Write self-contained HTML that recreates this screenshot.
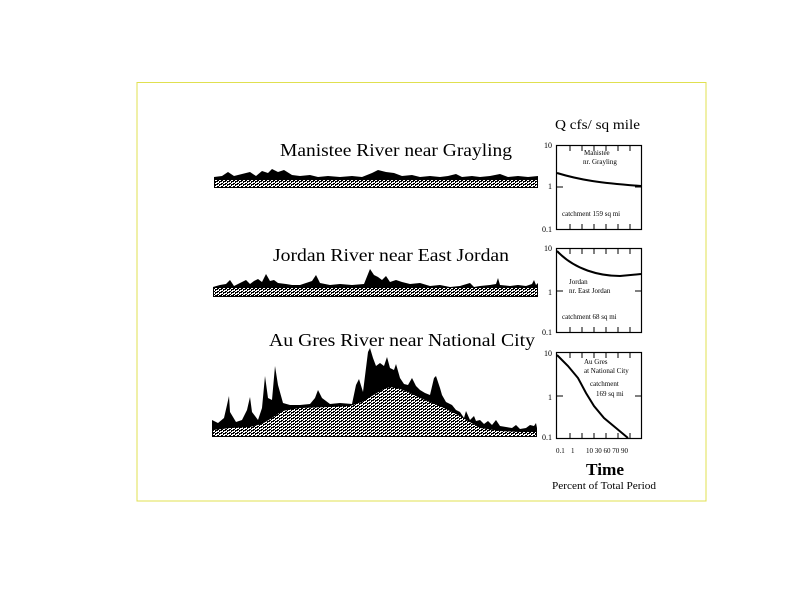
<!DOCTYPE html>
<html><head><meta charset="utf-8"><style>
html,body{margin:0;padding:0;background:#fff;}
svg{display:block;}
text{font-family:"Liberation Serif",serif;fill:#000;}
</style></head><body>
<svg width="800" height="600" viewBox="0 0 800 600" xmlns="http://www.w3.org/2000/svg">
<defs>
<pattern id="st" width="4" height="3" patternUnits="userSpaceOnUse">
<rect width="4" height="3" fill="#000"/>
<rect x="0" y="0" width="1" height="1" fill="#fff"/>
<rect x="2" y="1" width="1" height="1" fill="#fff"/>
<rect x="1" y="2" width="2" height="1" fill="#fff"/>
<rect x="3" y="0" width="1" height="1" fill="#fff"/>
<rect x="0" y="2" width="1" height="1" fill="#fff"/>
</pattern>
</defs>
<rect x="137" y="82.5" width="569" height="418.5" fill="none" stroke="#e0e050" stroke-width="1"/>

<text x="555" y="129" font-size="14" textLength="85" lengthAdjust="spacingAndGlyphs">Q cfs/ sq mile</text>
<text x="280" y="156" font-size="18" textLength="232" lengthAdjust="spacingAndGlyphs">Manistee River near Grayling</text>
<text x="273" y="261" font-size="18" textLength="236" lengthAdjust="spacingAndGlyphs">Jordan River near East Jordan</text>
<text x="269" y="346" font-size="18" textLength="266" lengthAdjust="spacingAndGlyphs">Au Gres River near National City</text>

<!-- Manistee hydrograph -->
<path d="M214 177 L222 176 L228 172 L234 176 L242 174 L250 172 L256 176 L262 171 L268 173 L272 169 L278 172 L284 170 L292 175 L300 176 L310 175 L318 177 L328 176 L340 177 L352 176 L362 177 L372 173 L378 170 L386 172 L394 173 L402 176 L412 175 L420 177 L430 176 L440 177 L448 176 L456 174 L462 177 L472 176 L480 177 L490 176 L500 174 L508 177 L518 176 L528 177 L538 176 L538 188 L214 188 Z" fill="#000"/>
<rect x="215" y="180" width="322" height="7" fill="url(#st)"/>

<!-- Jordan hydrograph -->
<path d="M213 287 L220 285 L226 284 L230 280 L234 286 L240 283 L246 280 L250 284 L254 281 L258 279 L262 282 L266 274 L270 281 L274 280 L278 283 L286 284 L292 285 L300 285 L312 281 L316 275 L320 283 L330 285 L340 284 L352 285 L364 284 L370 269 L374 275 L378 277 L382 280 L386 276 L390 282 L396 280 L402 282 L410 284 L420 283 L430 286 L440 285 L450 287 L460 286 L470 283 L474 287 L480 286 L490 285 L496 284 L498 278 L500 285 L510 286 L518 285 L526 286 L532 284 L534 280 L536 285 L538 283 L538 297 L213 297 Z" fill="#000"/>
<rect x="214" y="288" width="323" height="8" fill="url(#st)"/>

<!-- Au Gres hydrograph -->
<path d="M212 420 L218 423 L224 418 L227 405 L229 396 L230 412 L236 422 L242 420 L247 410 L250 397 L252 412 L258 420 L262 408 L265 376 L268 398 L272 400 L275 366 L278 385 L283 403 L290 405 L300 405 L310 404 L315 398 L318 390 L322 398 L330 404 L340 403 L352 404 L356 385 L359 379 L363 392 L368 352 L370 348 L373 358 L376 366 L380 363 L384 366 L387 357 L390 368 L394 370 L396 364 L400 378 L404 384 L408 385 L412 378 L416 386 L420 390 L425 393 L430 395 L434 378 L436 376 L440 388 L442 395 L446 402 L452 405 L456 410 L460 412 L464 418 L466 411 L470 420 L474 416 L476 421 L480 420 L484 424 L488 421 L492 425 L496 420 L500 426 L506 427 L512 428 L516 425 L520 429 L526 428 L530 425 L534 426 L536 423 L537 428 L537 437 L212 437 Z" fill="#000"/>
<path d="M213 430 L230 428 L250 427 L262 424 L272 418 L282 411 L300 408 L330 407 L350 406 L362 402 L372 396 L382 390 L390 387 L400 389 L410 393 L420 398 L432 403 L444 408 L456 414 L468 421 L480 428 L500 431 L520 432 L536 432 L536 436 L213 436 Z" fill="url(#st)"/>

<!-- Duration curve boxes -->
<g stroke="#000" fill="none" stroke-width="1.2">
<rect x="556.5" y="145.5" width="85" height="84"/>
<rect x="556.5" y="248.5" width="85" height="84"/>
<rect x="556.5" y="352.5" width="85" height="86"/>
</g>
<g stroke="#000" stroke-width="1">
<path d="M570 146v5M582 146v5M594 146v5M606 146v5M618 146v5M630 146v5M570 229v-5M582 229v-5M594 229v-5M606 229v-5M618 229v-5M630 229v-5M557 187h6M641 187h-6"/>
<path d="M570 249v5M582 249v5M594 249v5M606 249v5M618 249v5M630 249v5M570 332v-5M582 332v-5M594 332v-5M606 332v-5M618 332v-5M630 332v-5M557 291h6M641 291h-6"/>
<path d="M570 353v5M582 353v5M594 353v5M606 353v5M618 353v5M630 353v5M570 438v-5M582 438v-5M594 438v-5M606 438v-5M618 438v-5M630 438v-5M557 396h6M641 396h-6"/>
</g>
<g stroke="#000" fill="none" stroke-width="2">
<path d="M557 173 C580 180 600 183 641 186"/>
<path d="M557 251 C575 270 600 276 620 276 L641 274"/>
<path d="M557 355 L568 366 L578 378 L586 393 L594 406 L604 418 L616 428 L628 438"/>
</g>
<g font-size="8">
<text x="552" y="148" text-anchor="end">10</text>
<text x="552" y="189" text-anchor="end">1</text>
<text x="552" y="232" text-anchor="end">0.1</text>
<text x="552" y="251" text-anchor="end">10</text>
<text x="552" y="295" text-anchor="end">1</text>
<text x="552" y="335" text-anchor="end">0.1</text>
<text x="552" y="356" text-anchor="end">10</text>
<text x="552" y="400" text-anchor="end">1</text>
<text x="552" y="440" text-anchor="end">0.1</text>
</g>
<g font-size="7">
<text x="584" y="155">Manistee</text>
<text x="583" y="164">nr. Grayling</text>
<text x="562" y="216">catchment 159 sq mi</text>
<text x="569" y="284">Jordan</text>
<text x="569" y="293">nr. East Jordan</text>
<text x="562" y="319">catchment 68 sq mi</text>
<text x="584" y="364">Au Gres</text>
<text x="584" y="373">at National City</text>
<text x="590" y="386">catchment</text>
<text x="596" y="396">169 sq mi</text>
<text x="556" y="453">0.1</text>
<text x="571" y="453">1</text>
<text x="586" y="453">10  30 60 70 90</text>
</g>
<text x="586" y="475" font-size="17" font-weight="bold" textLength="38" lengthAdjust="spacingAndGlyphs">Time</text>
<text x="552" y="489" font-size="11" textLength="104" lengthAdjust="spacingAndGlyphs">Percent of Total Period</text>
</svg>
</body></html>
